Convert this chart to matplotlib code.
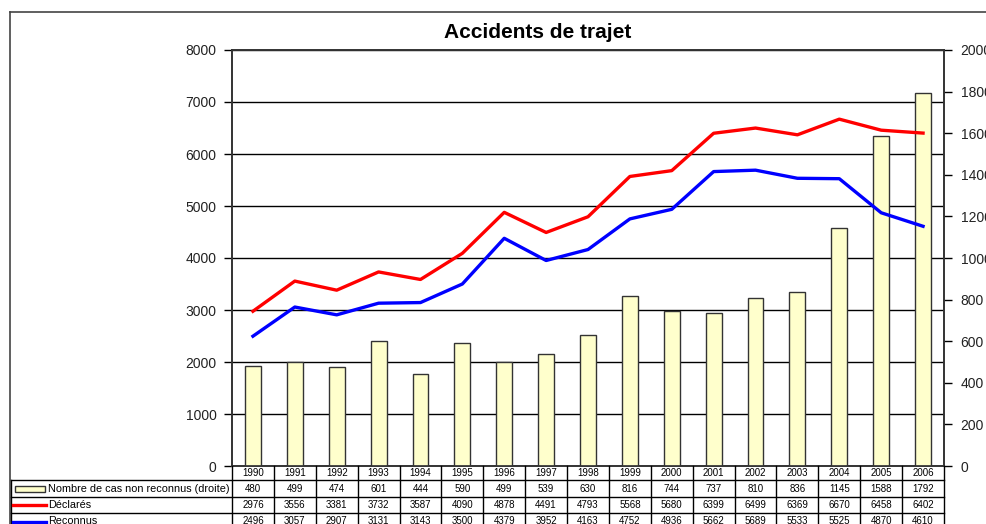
import matplotlib
matplotlib.use('Agg')
import matplotlib.pyplot as plt
from matplotlib.lines import Line2D
from matplotlib.patches import Rectangle
from matplotlib.transforms import blended_transform_factory

plt.rcParams['font.family'] = ['Liberation Sans', 'DejaVu Sans']

years = [1990, 1991, 1992, 1993, 1994, 1995, 1996, 1997, 1998, 1999,
         2000, 2001, 2002, 2003, 2004, 2005, 2006]
non_reconnus = [480, 499, 474, 601, 444, 590, 499, 539, 630, 816,
                744, 737, 810, 836, 1145, 1588, 1792]
declares = [2976, 3556, 3381, 3732, 3587, 4090, 4878, 4491, 4793, 5568,
            5680, 6399, 6499, 6369, 6670, 6458, 6402]
reconnus = [2496, 3057, 2907, 3131, 3143, 3500, 4379, 3952, 4163, 4752,
            4936, 5662, 5689, 5533, 5525, 4870, 4610]

W, H = 986, 524
fig = plt.figure(figsize=(W / 100, H / 100), dpi=100)

def fx(px):
    return px / W

def fy(py):
    return 1 - py / H

x_left, x_right, y_top, y_bot = 232, 944, 50, 466
ax = fig.add_axes([fx(x_left), fy(y_bot), fx(x_right - x_left), fy(y_top) - fy(y_bot)])
ax2 = ax.twinx()

xs = list(range(len(years)))
ax.set_xlim(-0.5, len(years) - 0.5)
ax.set_ylim(0, 8000)
ax.set_yticks(range(0, 8001, 1000))
ax.yaxis.grid(True, color='black', linewidth=1.0)
ax.set_axisbelow(True)
ax.set_xticks([])
ax.tick_params(axis='y', direction='out', length=6, width=1, labelsize=10, pad=5,
               labelcolor='#222222')

ax2.set_ylim(0, 2000)
ax2.set_yticks(range(0, 2001, 200))
ax2.tick_params(axis='y', direction='out', length=6, width=1, labelsize=10, pad=6,
                labelcolor='#222222')
for a in (ax, ax2):
    for s in a.spines.values():
        s.set_color('#333333')
        s.set_linewidth(1.2)

ax2.bar(xs, non_reconnus, width=0.38, color='#FFFFCC', edgecolor='#333333',
        linewidth=1.0, zorder=2)
# lines drawn in the left-axis scale, above the bars
ax2.plot(xs, declares, color='#FF0000', linewidth=2.4, transform=ax.transData, zorder=3)
ax2.plot(xs, reconnus, color='#0000FF', linewidth=2.4, transform=ax.transData, zorder=3)

# title with white background over the top gridline
fig.text(fx(538), fy(32), 'Accidents de trajet', ha='center', va='center',
         fontsize=15, fontweight='bold',
         bbox=dict(facecolor='white', edgecolor='none', pad=4))

# outer frame lines
fig.add_artist(Line2D([fx(10), 1], [fy(12), fy(12)], color='#444444', linewidth=1.2))
fig.add_artist(Line2D([fx(10), fx(10)], [fy(12), 0], color='#444444', linewidth=1.2))

# data table
tr = blended_transform_factory(ax.transData, fig.transFigure)
rows_y = [466, 480, 497, 513, 530]
for i in range(len(years) + 1):
    fig.add_artist(Line2D([i - 0.5, i - 0.5], [fy(rows_y[0]), fy(rows_y[-1])],
                          transform=tr, color='black', linewidth=1.0))
for yy in rows_y[1:]:
    fig.add_artist(Line2D([fx(11), fx(x_right)], [fy(yy), fy(yy)], color='black', linewidth=1.0))
fig.add_artist(Line2D([fx(11), fx(11)], [fy(480), 0], color='black', linewidth=1.0))

row_values = [years, non_reconnus, declares, reconnus]
for r, vals in enumerate(row_values):
    yc = fy((rows_y[r] + rows_y[r + 1]) / 2)
    for i, v in enumerate(vals):
        fig.text(i, yc, str(v), transform=tr, ha='center', va='center', fontsize=7)

labels = ['Nombre de cas non reconnus (droite)', 'Déclarés', 'Reconnus']
for r, lab in enumerate(labels):
    yc = (rows_y[r + 1] + rows_y[r + 2]) / 2
    if r == 0:
        fig.add_artist(Rectangle((fx(15), fy(yc + 3)), fx(30), fy(yc - 3) - fy(yc + 3),
                                 facecolor='#FFFFCC', edgecolor='#333333', linewidth=1.0))
    else:
        col = '#FF0000' if r == 1 else '#0000FF'
        fig.add_artist(Line2D([fx(13), fx(46)], [fy(yc), fy(yc)], color=col, linewidth=2.4))
    fig.text(fx(48), fy(yc), lab, ha='left', va='center', fontsize=7.8)

fig.savefig('out.png', dpi=100)
